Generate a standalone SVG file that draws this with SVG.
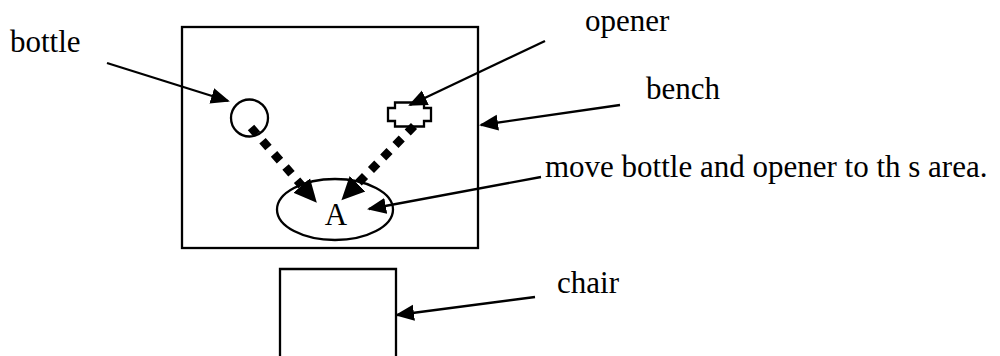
<svg xmlns="http://www.w3.org/2000/svg" width="1000" height="356" viewBox="0 0 1000 356">
<style>
.lbl{font-family:"Liberation Serif","Times New Roman",serif;font-size:31px;fill:#000}
.shape{fill:none;stroke:#000;stroke-width:2.3}
.arrow{fill:none;stroke:#000;stroke-width:2.3}
.dotted{fill:none;stroke:#000;stroke-width:8.5;stroke-dasharray:9 8.5}
</style>
<defs>
<marker id="ah" markerUnits="userSpaceOnUse" markerWidth="22" markerHeight="20" viewBox="0 -10 22 20" refX="17" refY="0" orient="auto">
<path d="M0,-8 L19,0 L0,8 z" fill="#000"/>
</marker>
<marker id="bh" markerUnits="userSpaceOnUse" markerWidth="26" markerHeight="26" viewBox="0 -13 26 26" refX="0" refY="0" orient="auto">
<path d="M0,-11 L23,0 L0,11 z" fill="#000"/>
</marker>
</defs>
<g id="bench">
<rect class="shape" x="182" y="27" width="296" height="221"/>
</g>
<g id="chair">
<path class="shape" d="M280,356 V269 H396 V356"/>
</g>
<g id="bottle">
<circle class="shape" cx="249.5" cy="118" r="18.5"/>
</g>
<g id="opener">
<path class="shape" d="M395,102.5 H424 V108 H431 V121 H424 V126.5 H395 V121 H388 V108 H395 Z"/>
</g>
<g id="area">
<ellipse class="shape" cx="335" cy="209.5" rx="58" ry="30.5"/>
<text class="lbl" x="336" y="225" text-anchor="middle">A</text>
</g>
<g id="labels">
<text class="lbl" x="10" y="52">bottle</text>
<text class="lbl" x="585" y="31">opener</text>
<text class="lbl" x="646" y="99">bench</text>
<text class="lbl" x="545" y="177">move bottle and opener to th s area.</text>
<text class="lbl" x="557" y="293">chair</text>
</g>
<g id="connectors">
<line class="arrow" x1="107" y1="63" x2="228" y2="101" marker-end="url(#ah)"/>
<line class="arrow" x1="545" y1="41" x2="410" y2="105" marker-end="url(#ah)"/>
<line class="arrow" x1="620" y1="105" x2="481" y2="125" marker-end="url(#ah)"/>
<line class="arrow" x1="541" y1="177" x2="369" y2="209" marker-end="url(#ah)"/>
<line class="arrow" x1="535" y1="297" x2="397" y2="315" marker-end="url(#ah)"/>
<line class="dotted" x1="251" y1="127.5" x2="301.7" y2="185.5" marker-end="url(#bh)"/>
<line class="dotted" x1="414" y1="126" x2="357.5" y2="183.7" marker-end="url(#bh)"/>
</g>
</svg>
